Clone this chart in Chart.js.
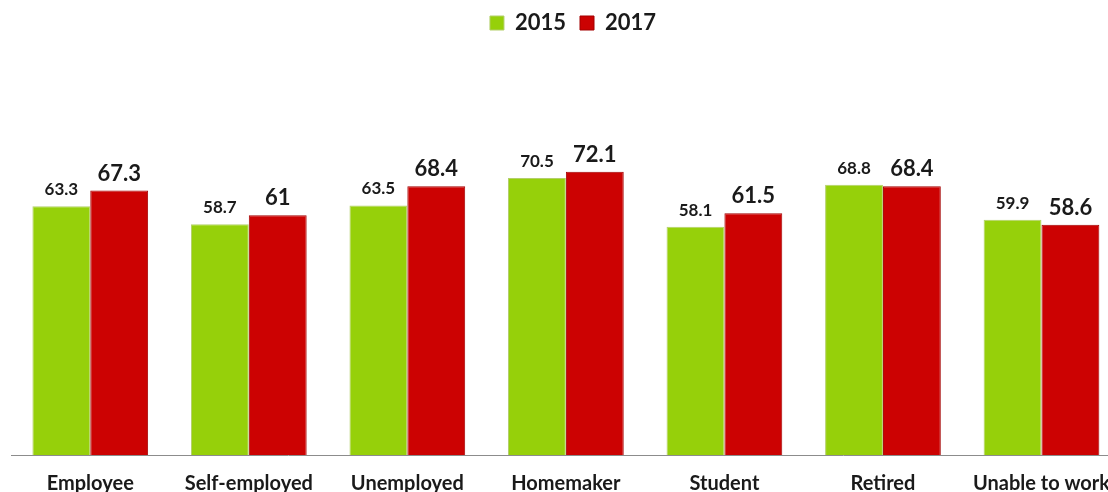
<!DOCTYPE html>
<html>
<head>
<meta charset="utf-8">
<script src="https://cdn.jsdelivr.net/npm/chart.js@4"></script>
<style>
  html, body { margin: 0; padding: 0; background: #fff; overflow: hidden; }
  #grafica { position: absolute; left: 0; top: 0; }
</style>
</head>
<body>
<canvas id="grafica" width="1127" height="492"></canvas>
<script>
// categorías y series
const categorias = ['Employee', 'Self-employed', 'Unemployed', 'Homemaker', 'Student', 'Retired', 'Unable to work'];
const valores2015 = [63.3, 58.7, 63.5, 70.5, 58.1, 68.8, 59.9];
const valores2017 = [67.3, 61, 68.4, 72.1, 61.5, 68.4, 58.6];

const fuente = "Lato, 'Open Sans', sans-serif";

// etiquetas de valor encima de cada barra
const etiquetas = {
  id: 'etiquetas',
  afterDatasetsDraw(chart) {
    const ctx = chart.ctx;
    ctx.save();
    ctx.textAlign = 'center';
    ctx.textBaseline = 'bottom';
    ctx.fillStyle = '#1a1a1a';
    chart.data.datasets.forEach((ds, i) => {
      const meta = chart.getDatasetMeta(i);
      const grande = i === 1;
      ctx.font = (grande ? 'bold 22px ' : 'bold 17px ') + fuente;
      meta.data.forEach((bar, j) => {
        ctx.fillText(String(ds.data[j]), bar.x, bar.y - (grande ? 6 : 8));
      });
    });
    ctx.restore();
  }
};

// leyenda un poco a la derecha
const moverLeyenda = {
  id: 'moverLeyenda',
  afterLayout(chart) {
    chart.legend.left += 4;
    chart.legend.right += 4;
  }
};

new Chart(document.getElementById('grafica').getContext('2d'), {
  type: 'bar',
  data: {
    labels: categorias,
    datasets: [
      {
        label: '2015',
        data: valores2015,
        backgroundColor: '#96d00a',
        borderColor: '#b3cf6a',
        borderWidth: 1,
        borderSkipped: 'bottom'
      },
      {
        label: '2017',
        data: valores2017,
        backgroundColor: '#cc0202',
        borderColor: '#a30000',
        borderWidth: 1,
        borderSkipped: 'bottom'
      }
    ]
  },
  options: {
    responsive: false,
    animation: false,
    layout: { padding: { top: -2, left: 11, right: 0, bottom: -21 } },
    datasets: { bar: { categoryPercentage: 0.73, barPercentage: 1 } },
    scales: {
      x: {
        grid: { display: false, drawTicks: false },
        border: { display: true, color: '#8c8c8c', width: 1 },
        ticks: {
          color: '#1a1a1a',
          padding: 17,
          maxRotation: 0,
          font: { family: fuente, size: 20, weight: 'bold' }
        }
      },
      y: {
        display: false,
        min: 0,
        max: 104.6
      }
    },
    plugins: {
      legend: {
        position: 'top',
        labels: {
          color: '#1a1a1a',
          boxWidth: 14,
          boxHeight: 14,
          padding: 14,
          font: { family: fuente, size: 22, weight: 'bold' }
        }
      },
      tooltip: { enabled: false }
    }
  },
  plugins: [etiquetas, moverLeyenda]
});
</script>
</body>
</html>
